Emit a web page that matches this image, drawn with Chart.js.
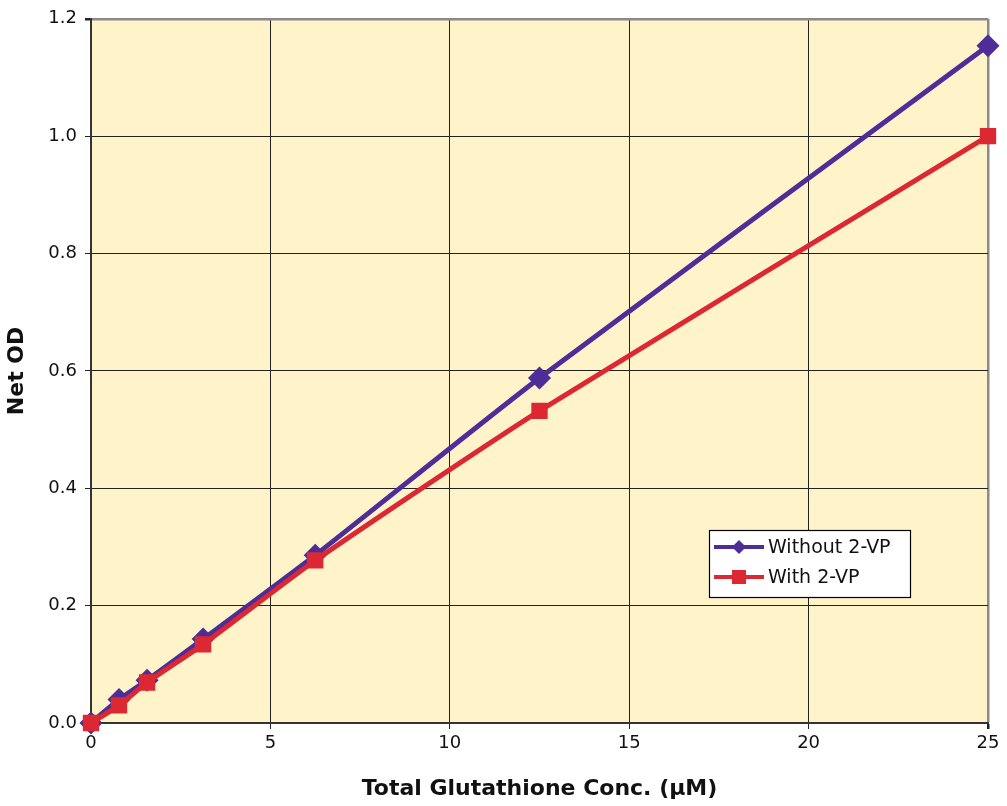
<!DOCTYPE html>
<html>
<head>
<meta charset="utf-8">
<script src="https://cdn.jsdelivr.net/npm/chart.js@4.4.0/dist/chart.umd.min.js"></script>
<style>
  html, body { margin: 0; padding: 0; background: #fff; }
  #wrap { width: 1007px; height: 806px; }
</style>
</head>
<body>
<div id="wrap"><canvas id="odChart"></canvas></div>
<script>
// glutathione standard curve
const conc = [0, 0.78125, 1.5625, 3.125, 6.25, 12.5, 25]
const withoutVP = [0, 0.040, 0.073, 0.143, 0.286, 0.588, 1.154]
const withVP = [0, 0.030, 0.069, 0.134, 0.277, 0.532, 1.0]
const seriesNames = ['Without 2-VP', 'With 2-VP']
const xTicks = [0, 5, 10, 15, 20, 25]
const yTicks = [0, 0.2, 0.4, 0.6, 0.8, 1.0, 1.2]

const purple = '#4f2d98'
const red = '#dc2832'
const fontFam = '"DejaVu Sans", sans-serif'

const pts = (xs, ys) => xs.map((x, i) => ({ x: x, y: ys[i] }))

// yellow plot background
const bgPlugin = {
  id: 'bg',
  beforeDraw(chart) {
    const a = chart.chartArea, c = chart.ctx
    c.save()
    c.fillStyle = '#fff3c9'
    c.fillRect(a.left, a.top, a.right - a.left, a.bottom - a.top)
    c.restore()
  }
}

// legend box sitting inside the plot
const legendBox = {
  id: 'legendBox',
  afterDraw(chart) {
    const c = chart.ctx
    const x = 709, y = 530, w = 201, h = 67
    c.save()
    c.fillStyle = '#fff'
    c.fillRect(x, y, w, h)
    c.strokeStyle = '#000'
    c.lineWidth = 1.2
    c.strokeRect(x + 0.5, y + 0.5, w, h)
    const rows = [
      { name: seriesNames[0], color: purple, shape: 'diamond' },
      { name: seriesNames[1], color: red, shape: 'square' }
    ]
    rows.forEach((r, i) => {
      const cy = y + 17 + i * 30
      c.strokeStyle = r.color
      c.lineWidth = 4
      c.beginPath()
      c.moveTo(x + 5, cy)
      c.lineTo(x + 55, cy)
      c.stroke()
      c.fillStyle = r.color
      if (r.shape === 'diamond') {
        c.beginPath()
        c.moveTo(x + 30, cy - 7)
        c.lineTo(x + 37, cy)
        c.lineTo(x + 30, cy + 7)
        c.lineTo(x + 23, cy)
        c.closePath()
        c.fill()
      } else {
        c.fillRect(x + 23, cy - 7, 14, 14)
      }
      c.fillStyle = '#111'
      c.font = '19px ' + fontFam
      c.textBaseline = 'middle'
      c.fillText(r.name, x + 59, cy + 1)
    })
    c.restore()
  }
}

const ctx = document.getElementById('odChart').getContext('2d')
let odChart = new Chart(ctx, {
  type: 'line',
  data: {
    datasets: [
      {
        label: seriesNames[1],
        data: pts(conc, withVP),
        borderColor: red,
        backgroundColor: red,
        borderWidth: 5,
        pointStyle: 'rect',
        pointRadius: 8,
        pointHoverRadius: 8,
        tension: 0.2,
        clip: false,
        order: 0
      },
      {
        label: seriesNames[0],
        data: pts(conc, withoutVP),
        borderColor: purple,
        backgroundColor: purple,
        borderWidth: 5,
        pointStyle: 'rectRot',
        pointRadius: 8,
        pointHoverRadius: 8,
        tension: 0.2,
        clip: false,
        order: 1
      }
    ]
  },
  options: {
    responsive: true,
    maintainAspectRatio: false,
    animation: false,
    layout: { padding: { top: 16, right: 19, left: 0, bottom: 0 } },
    plugins: {
      legend: { display: false },
      tooltip: { enabled: false }
    },
    scales: {
      x: {
        type: 'linear',
        min: 0,
        max: 25,
        afterBuildTicks(axis) { axis.ticks = xTicks.map(v => ({ value: v })) },
        afterFit(axis) { axis.height = 83 },
        grid: {
          color: (c) => c.tick && c.tick.value === 25 ? '#8a8a8a' : '#222',
          lineWidth: (c) => c.tick && c.tick.value === 25 ? 2.5 : 1,
          tickColor: '#222',
          tickLength: 6
        },
        border: { color: '#333', width: 2 },
        ticks: {
          color: '#111',
          font: { family: fontFam, size: 18 },
          padding: 4,
          maxRotation: 0
        },
        title: {
          display: true,
          text: 'Total Glutathione Conc. (µM)',
          color: '#111',
          font: { family: fontFam, size: 22, weight: 'bold' },
          padding: { top: 12 }
        }
      },
      y: {
        min: 0,
        max: 1.2,
        afterBuildTicks(axis) { axis.ticks = yTicks.map(v => ({ value: v })) },
        afterFit(axis) { axis.width = 91 },
        grid: {
          color: (c) => c.tick && c.tick.value === 1.2 ? '#8a8a8a' : '#222',
          lineWidth: (c) => c.tick && c.tick.value === 1.2 ? 2.5 : 1,
          tickColor: '#222',
          tickLength: 6
        },
        border: { color: '#333', width: 2 },
        ticks: {
          color: '#111',
          font: { family: fontFam, size: 18 },
          padding: 8,
          callback: (v) => v.toFixed(1)
        },
        title: {
          display: true,
          text: 'Net OD',
          color: '#111',
          font: { family: fontFam, size: 22, weight: 'bold' },
          padding: { bottom: 2 }
        }
      }
    }
  },
  plugins: [bgPlugin, legendBox]
})
</script>
</body>
</html>
